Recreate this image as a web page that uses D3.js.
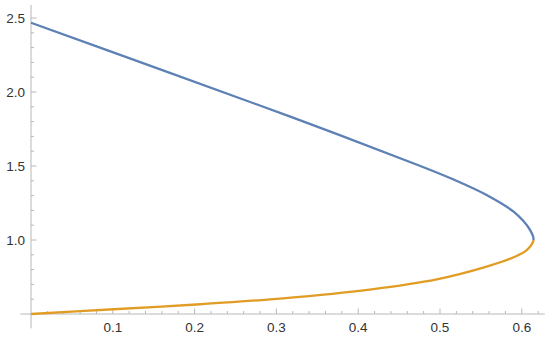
<!DOCTYPE html>
<html>
<head>
<meta charset="utf-8">
<script src="https://cdn.jsdelivr.net/npm/d3@7"></script>
<style>
  body { margin: 0; background: #fff; }
  text { font-family: "Liberation Sans", Arial, sans-serif; }
</style>
</head>
<body>
<div id="chart"></div>
<script>
// upper branch (blue) and lower branch (orange)
const blueX = [0, 0.158, 0.317, 0.476, 0.516, 0.557, 0.590, 0.610, 0.6143];
const blueY = [2.468, 2.153, 1.834, 1.500, 1.410, 1.304, 1.191, 1.068, 1.0];
const orangeX = [0, 0.101, 0.207, 0.308, 0.414, 0.496, 0.557, 0.590, 0.606, 0.6143];
const orangeY = [0.5, 0.532, 0.566, 0.606, 0.665, 0.734, 0.820, 0.883, 0.932, 1.0];

const xMajor = [0.1, 0.2, 0.3, 0.4, 0.5, 0.6];
const yMajor = [1.0, 1.5, 2.0, 2.5];

const width = 550, height = 338;

const x = d3.scaleLinear().domain([0, 0.6]).range([31, 521.8]);
const y = d3.scaleLinear().domain([1.0, 2.5]).range([240, 18]);

const svg = d3.select("#chart")
    .append("svg")
    .attr("width", width)
    .attr("height", height);

const axisColor = "#b8b8b8";

// minor ticks
let xMinor = [];
for (let i = 1; i <= 31; i++) {
    if (i % 5 !== 0) xMinor.push(i * 0.02);
}
let yMinor = [];
for (let i = 6; i <= 25; i++) {
    if (i % 5 !== 0) yMinor.push(i / 10);
}

const y0 = y(0.5);

// x axis
svg.append("line")
    .attr("x1", x(-0.013)).attr("x2", x(0.628))
    .attr("y1", y0).attr("y2", y0)
    .attr("stroke", axisColor).attr("stroke-width", 1);

svg.selectAll(".xminor")
    .data(xMinor)
    .enter().append("line")
    .attr("x1", d => x(d)).attr("x2", d => x(d))
    .attr("y1", y0).attr("y2", y0 - 3)
    .attr("stroke", axisColor);

svg.selectAll(".xmajor")
    .data(xMajor)
    .enter().append("line")
    .attr("x1", d => x(d)).attr("x2", d => x(d))
    .attr("y1", y0).attr("y2", y0 - 5.5)
    .attr("stroke", axisColor);

svg.selectAll(".xlabel")
    .data(xMajor)
    .enter().append("text")
    .attr("x", d => x(d))
    .attr("y", 332)
    .attr("text-anchor", "middle")
    .attr("font-size", 13.5)
    .attr("fill", "#333")
    .text(d => d3.format(".1f")(d));

// y axis
svg.append("line")
    .attr("x1", x(0)).attr("x2", x(0))
    .attr("y1", y(2.588)).attr("y2", y(0.403))
    .attr("stroke", axisColor).attr("stroke-width", 1);

svg.selectAll(".yminor")
    .data(yMinor)
    .enter().append("line")
    .attr("x1", x(0)).attr("x2", x(0) + 3)
    .attr("y1", d => y(d)).attr("y2", d => y(d))
    .attr("stroke", axisColor);

svg.selectAll(".ymajor")
    .data(yMajor)
    .enter().append("line")
    .attr("x1", x(0)).attr("x2", x(0) + 5.5)
    .attr("y1", d => y(d)).attr("y2", d => y(d))
    .attr("stroke", axisColor);

svg.selectAll(".ylabel")
    .data(yMajor)
    .enter().append("text")
    .attr("x", 25)
    .attr("y", d => y(d))
    .attr("dy", "0.36em")
    .attr("text-anchor", "end")
    .attr("font-size", 13.5)
    .attr("fill", "#333")
    .text(d => d3.format(".1f")(d));

// one path through both branches so the turn at the nose is smooth;
// each colour is clipped to its own half
const pts = orangeX.map((v, i) => [v, orangeY[i]])
    .concat(blueX.map((v, i) => [v, blueY[i]]).reverse().slice(1));

const line = d3.line()
    .x(d => x(d[0]))
    .y(d => y(d[1]))
    .curve(d3.curveCatmullRom.alpha(0.5));

const defs = svg.append("defs");
defs.append("clipPath").attr("id", "clip-low")
    .append("rect")
    .attr("x", 0).attr("y", y(1.0)).attr("width", width).attr("height", height - y(1.0));
defs.append("clipPath").attr("id", "clip-high")
    .append("rect")
    .attr("x", 0).attr("y", 0).attr("width", width).attr("height", y(1.0));

svg.append("path")
    .datum(pts)
    .attr("clip-path", "url(#clip-low)")
    .attr("fill", "none")
    .attr("stroke", "#e19c24")
    .attr("stroke-width", 2.3)
    .attr("d", line);

svg.append("path")
    .datum(pts)
    .attr("clip-path", "url(#clip-high)")
    .attr("fill", "none")
    .attr("stroke", "#5e81b5")
    .attr("stroke-width", 2.3)
    .attr("d", line);
</script>
</body>
</html>
